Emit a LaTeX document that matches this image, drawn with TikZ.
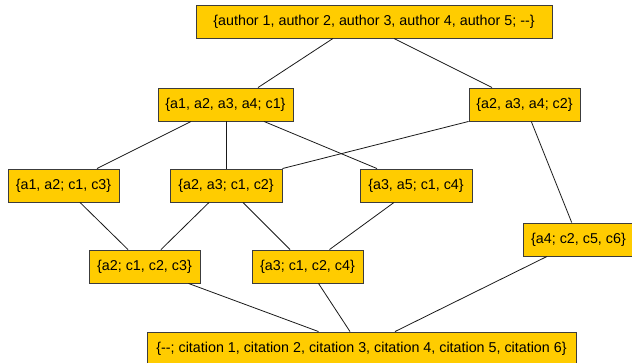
\documentclass[tikz,border=0pt]{standalone}
\usepackage{fontspec}
\setmainfont{Liberation Sans}
\usetikzlibrary{shadows}
\definecolor{boxfill}{RGB}{255,204,0}
\definecolor{boxline}{RGB}{60,60,60}
\tikzset{
  setbox/.style={draw=boxline, line width=0.9pt, fill=boxfill, minimum height=33pt,
    inner xsep=2pt, inner ysep=0pt, anchor=center,
    font=\fontsize{14.3}{16}\selectfont,
    drop shadow={shadow xshift=1.2pt, shadow yshift=-1.2pt, fill=black!35, opacity=0.7}},
  link/.style={draw=black!90, line width=0.8pt}
}
\begin{document}
\begin{tikzpicture}[x=1pt,y=-1pt]
\useasboundingbox (0,0) rectangle (632,362);
\node[setbox, minimum width=356pt] (top) at (374,21.5) {\{author 1, author 2, author 3, author 4, author 5; -{}-\}};
\node[setbox, minimum width=135pt] (n1) at (225.5,104.5) {\{a1, a2, a3, a4; c1\}};
\node[setbox, minimum width=111pt] (n2) at (524.5,104.5) {\{a2, a3, a4; c2\}};
\node[setbox, minimum width=111pt] (n3) at (63.5,185.5) {\{a1, a2; c1, c3\}};
\node[setbox, minimum width=112pt] (n4) at (226,185.5) {\{a2, a3; c1, c2\}};
\node[setbox, minimum width=112pt] (n5) at (416,185.5) {\{a3, a5; c1, c4\}};
\node[setbox, minimum width=111pt] (n6) at (144.5,266.5) {\{a2; c1, c2, c3\}};
\node[setbox, minimum width=111pt] (n7) at (307.5,266.5) {\{a3; c1, c2, c4\}};
\node[setbox, minimum width=111pt] (n8) at (578.5,239.5) {\{a4; c2, c5, c6\}};
\node[setbox, minimum width=429pt] (bot) at (361.5,348.5) {\{-{}-; citation 1, citation 2, citation 3, citation 4, citation 5, citation 6\}};
\draw[link] ([xshift=-41pt]top.south) -- ([xshift=32.5pt]n1.north);
\draw[link] ([xshift=20pt]top.south) -- ([xshift=-32.5pt]n2.north);
\draw[link] ([xshift=-34.5pt]n1.south) -- ([xshift=33.5pt]n3.north);
\draw[link] ([xshift=0.5pt]n1.south) -- (n4.north);
\draw[link] ([xshift=38.5pt]n1.south) -- ([xshift=-39pt]n5.north);
\draw[link] (n2.south west) -- (n4.north east);
\draw[link] (n2) -- (n8);
\draw[link] ([xshift=16.5pt]n3.south) -- ([xshift=-16.5pt]n6.north);
\draw[link] ([xshift=-17pt]n4.south) -- ([xshift=16.5pt]n6.north);
\draw[link] ([xshift=17pt]n4.south) -- ([xshift=-17.5pt]n7.north);
\draw[link] ([xshift=-22pt]n5.south) -- ([xshift=22pt]n7.north);
\draw[link] ([xshift=44pt]n6.south) -- ([xshift=-43pt]bot.north);
\draw[link] ([xshift=11pt]n7.south) -- ([xshift=-11.5pt]bot.north);
\draw[link] ([xshift=-31.5pt]n8.south) -- ([xshift=33.5pt]bot.north);
\end{tikzpicture}
\end{document}
